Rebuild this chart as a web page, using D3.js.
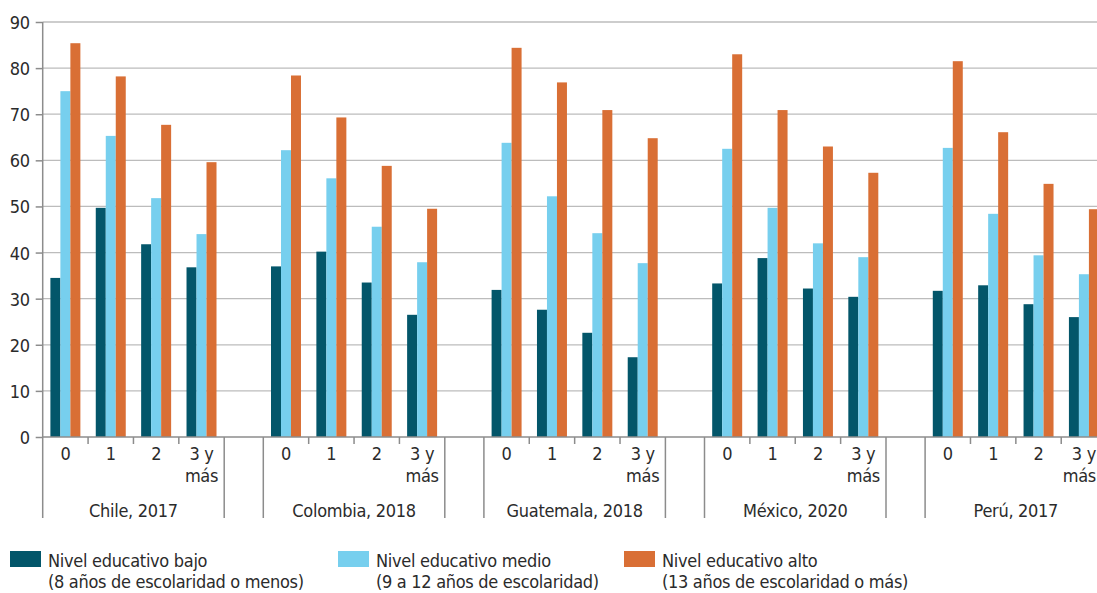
<!DOCTYPE html>
<html>
<head>
<meta charset="utf-8">
<script src="https://cdn.jsdelivr.net/npm/d3@7"></script>
<style>
  body { margin: 0; background: #fff; }
  svg text { font-family: "Liberation Sans Narrow", "DejaVu Sans Condensed", "DejaVu Sans", sans-serif; fill: #2b2b2b; letter-spacing: -0.3px; }
</style>
</head>
<body>
<div id="chart"></div>
<script>
// categories
var countries = ["Chile, 2017", "Colombia, 2018", "Guatemala, 2018", "México, 2020", "Perú, 2017"];
var subcats = ["0", "1", "2", "3 y más"];
var seriesNames = ["Nivel educativo bajo", "Nivel educativo medio", "Nivel educativo alto"];
var seriesNotes = ["(8 años de escolaridad o menos)", "(9 a 12 años de escolaridad)", "(13 años de escolaridad o más)"];
var yTicks = [0, 10, 20, 30, 40, 50, 60, 70, 80, 90];

// values, one row per country, one value per subcategory
var bajo = [
  [34.5, 49.7, 41.8, 36.8],
  [37.0, 40.2, 33.5, 26.5],
  [31.9, 27.6, 22.6, 17.3],
  [33.3, 38.8, 32.2, 30.4],
  [31.7, 32.9, 28.8, 26.0]
];
var medio = [
  [75.0, 65.3, 51.8, 44.0],
  [62.2, 56.1, 45.6, 37.9],
  [63.8, 52.2, 44.2, 37.7],
  [62.5, 49.7, 42.0, 39.0],
  [62.7, 48.4, 39.4, 35.3]
];
var alto = [
  [85.4, 78.2, 67.7, 59.6],
  [78.4, 69.3, 58.8, 49.5],
  [84.4, 76.9, 70.9, 64.8],
  [83.0, 70.9, 63.0, 57.3],
  [81.5, 66.1, 54.9, 49.4]
];

var colors = ["#03566a", "#77cfee", "#d96f35"];

var W = 1097, H = 593;
var x0 = 42.7, yTop = 22, yBase = 437;
var fs = "18px";

var svg = d3.select("#chart").append("svg")
    .attr("width", W)
    .attr("height", H);

var y = d3.scaleLinear().domain([0, 90]).range([yBase, yTop]);

var groupW = 181.5, gapW = 39.1;
var xGroup = d3.scaleBand()
    .domain(countries)
    .range([x0, x0 + 5 * groupW + 4 * gapW])
    .paddingInner(gapW / (groupW + gapW))
    .paddingOuter(0);
var xSub = d3.scaleBand().domain(subcats).range([0, xGroup.bandwidth()]);
var xSer = d3.scaleBand().domain([0, 1, 2]).range([0, xSub.bandwidth()])
    .paddingInner(0).paddingOuter(0.77);

// gridlines
svg.append("g")
    .selectAll("line")
    .data(yTicks.filter(function(d) { return d > 0; }))
    .enter().append("line")
    .attr("x1", x0).attr("x2", W)
    .attr("y1", function(d) { return y(d); })
    .attr("y2", function(d) { return y(d); })
    .style("stroke", "#bcbcbc")
    .style("stroke-width", 1.3);

// bars
var rows = [];
countries.forEach(function(c, ci) {
    subcats.forEach(function(s, si) {
        [bajo, medio, alto].forEach(function(arr, k) {
            rows.push({country: c, sub: s, k: k, v: arr[ci][si]});
        });
    });
});
svg.append("g")
    .selectAll("rect")
    .data(rows)
    .enter().append("rect")
    .attr("x", function(d) { return xGroup(d.country) + xSub(d.sub) + xSer(d.k); })
    .attr("width", xSer.bandwidth())
    .attr("y", function(d) { return y(d.v); })
    .attr("height", function(d) { return yBase - y(d.v); })
    .style("fill", function(d) { return colors[d.k]; });

// y axis
var yAxis = d3.axisLeft(y).tickValues(yTicks).tickSize(7).tickPadding(6);
var yAxisG = svg.append("g")
    .attr("transform", "translate(" + x0 + ",0)")
    .call(yAxis);
yAxisG.select(".domain").remove();
yAxisG.selectAll(".tick line").style("stroke", "#8c8c8c").style("stroke-width", 1.5);
yAxisG.selectAll("text")
    .style("font-size", fs)
    .attr("dy", "0.36em")
    .style("fill", "#2b2b2b");

var axisCol = "#8c8c8c";
// vertical axis line, runs down to the group label row
svg.append("line")
    .attr("x1", x0).attr("x2", x0)
    .attr("y1", y(90)).attr("y2", 518)
    .style("stroke", axisCol).style("stroke-width", 1.5);
// horizontal axis line
svg.append("line")
    .attr("x1", x0).attr("x2", W)
    .attr("y1", yBase).attr("y2", yBase)
    .style("stroke", axisCol).style("stroke-width", 1.5);

// x axis: group separators, sub ticks, labels
var xg = svg.append("g");
countries.forEach(function(c, ci) {
    var gx = xGroup(c);
    [gx, gx + xGroup.bandwidth()].forEach(function(px, i) {
        if (ci === 0 && i === 0) return;
        xg.append("line")
            .attr("x1", px).attr("x2", px)
            .attr("y1", yBase).attr("y2", 518)
            .style("stroke", axisCol).style("stroke-width", 1.5);
    });
    subcats.forEach(function(s, si) {
        if (si > 0) {
            var tx = gx + xSub(s);
            xg.append("line")
                .attr("x1", tx).attr("x2", tx)
                .attr("y1", yBase).attr("y2", yBase + 7)
                .style("stroke", axisCol).style("stroke-width", 1.5);
        }
        var cx = gx + xSub(s) + xSub.bandwidth() / 2;
        var parts = s === "3 y más" ? ["3 y", "más"] : [s];
        parts.forEach(function(p, pi) {
            var t = xg.append("text")
                .attr("x", cx)
                .attr("y", 460 + pi * 21.5)
                .attr("text-anchor", "middle")
                .style("font-size", fs)
                .text(p);
            // keep the last labels inside the picture
            var w = t.node().getComputedTextLength();
            if (cx + w / 2 > W - 1) t.attr("x", W - 1 - w / 2);
        });
    });
    xg.append("text")
        .attr("x", gx + xGroup.bandwidth() / 2)
        .attr("y", 516.5)
        .attr("text-anchor", "middle")
        .style("font-size", fs)
        .text(c);
});

// legend
var legX = [10, 338, 624];
var leg = svg.append("g");
seriesNames.forEach(function(name, i) {
    var g = leg.append("g").attr("transform", "translate(" + legX[i] + ",0)");
    g.append("rect")
        .attr("x", 0).attr("y", 551)
        .attr("width", 31).attr("height", 16)
        .style("fill", colors[i]);
    g.append("text")
        .attr("x", 38).attr("y", 567)
        .style("font-size", fs)
        .text(name);
    g.append("text")
        .attr("x", 38).attr("y", 587.5)
        .style("font-size", fs)
        .text(seriesNotes[i]);
});
</script>
</body>
</html>
